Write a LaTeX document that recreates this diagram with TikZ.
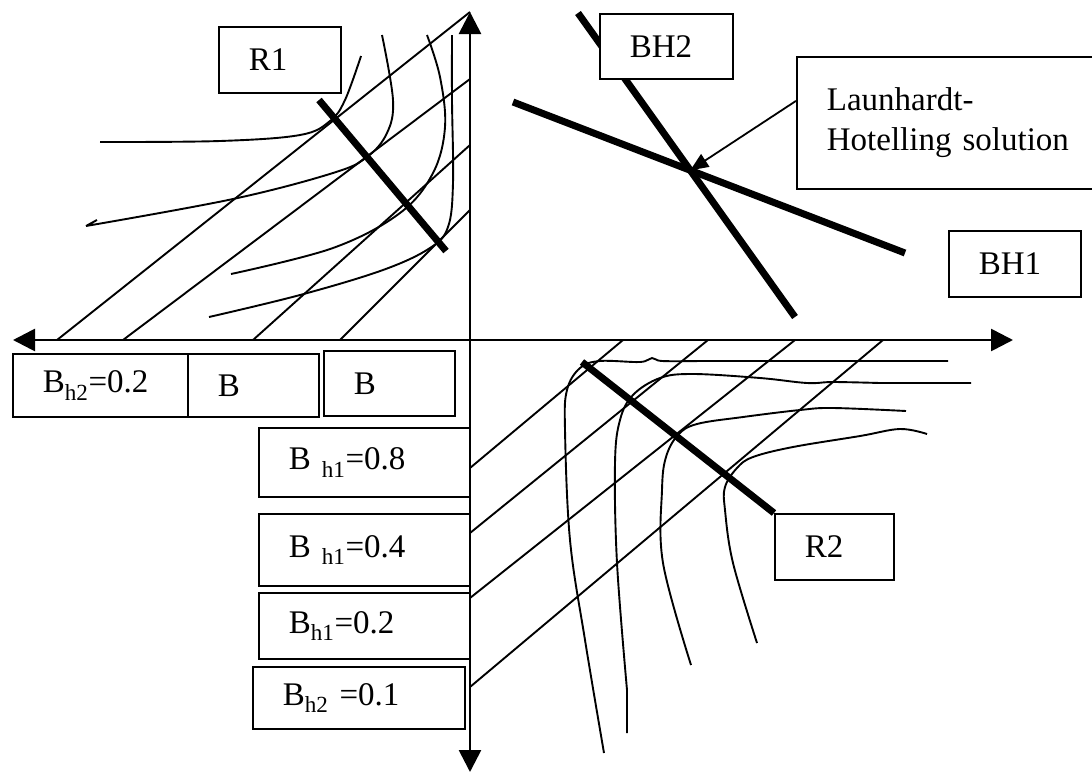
\documentclass[tikz,border=0pt]{standalone}
\usepackage{fontspec}
\setmainfont{Liberation Serif}
\usetikzlibrary{arrows.meta}

\begin{document}
\begin{tikzpicture}
[x=1pt,y=-1pt,
 every node/.style={font=\fontsize{33}{40}\selectfont},
 box/.style={draw,line width=1.8pt,fill=white,anchor=north west,inner xsep=30pt,inner ysep=0pt,align=left},
 isoline/.style={line width=1.9pt},
 heavy/.style={line width=7pt},
 axisline/.style={line width=2.7pt,{Triangle[length=22pt,width=22pt]}-{Triangle[length=22pt,width=22pt]}}]
\useasboundingbox (0,0) rectangle (1092,772);
\coordinate (xl) at (13,340);
\coordinate (xr) at (1013,340);
\coordinate (yt) at (470,12);
\coordinate (yb) at (470,772);
\coordinate (r1a) at (319,100);
\coordinate (r1b) at (446,251);
\coordinate (r2a) at (582,362);
\coordinate (bh1a) at (513,102);
\coordinate (bh1b) at (905,253);
\coordinate (bh2a) at (578,13);
\coordinate (bh2b) at (795,317);
\coordinate (sol) at (intersection of bh1a--bh1b and bh2a--bh2b);
\foreach \a/\b in {57/12,123/79,253/145,340/210}
\draw[isoline] (\a,340) -- (470,\b);
\foreach \a/\b in {623/468,708/533,795/598,883/687}
\draw[isoline] (\a,340) -- (470,\b);
\draw[isoline] plot[smooth,tension=0.6] coordinates {(100,142) (220,141) (300,135) (330,121) (345,100) (361,56)};
\draw[isoline] (97,220) -- (86,226) plot[smooth,tension=0.6] coordinates {(86,226) (233,199) (333,173) (367,157) (387,133) (393,100) (382,35)};
\draw[isoline] plot[smooth,tension=0.6] coordinates {(231,274) (333,248) (400,213) (433,173) (445,127) (440,77) (427,35)};
\draw[isoline] plot[smooth,tension=0.6] coordinates {(209,317) (300,295) (383,270) (430,248) (448,227) (453,183) (452,100) (452,35)};
\draw[isoline] plot[smooth,tension=0.6] coordinates {(604,753) (585,640) (570,540) (565,430) (567,390) (580,368) (600,361) (640,362) (652,358) (662,361) (700,361)} -- (948,361);
\draw[isoline] (627,733) -- (627,690) plot[smooth,tension=0.6] coordinates {(627,690) (617,563) (615,463) (620,420) (633,395) (660,378) (693,374) (760,378) (807,383) (833,382) (880,383)} -- (971,383);
\draw[isoline] plot[smooth,tension=0.6] coordinates {(691,665) (663,563) (662,490) (666,457) (678,435) (697,424) (743,417) (800,410) (833,408) (906,411)};
\draw[isoline] plot[smooth,tension=0.6] coordinates {(757,643) (733,563) (725,510) (725,487) (737,468) (753,457) (793,447) (860,436) (900,429) (927,434)};
\draw[heavy] (r1a) -- (r1b);
\draw[heavy] (bh1a) -- (bh1b);
\draw[heavy] (bh2a) -- (bh2b);
\node[box,text width=62pt,minimum height=66pt] (r1) at (218,26) {R1};
\node[box,text width=73pt,minimum height=65pt] (bh2) at (599,13) {BH2};
\node[box,text width=270pt,minimum height=132pt] (lh) at (796,56) {Launhardt-\\Hotelling solution\\[-16pt]};
\node[box,text width=72pt,minimum height=66pt] (bh1) at (948,230) {BH1};
\node[box,text width=59pt,minimum height=66pt] (r2) at (774,513) {R2};
\node[box,text width=115pt,minimum height=63pt] (b1) at (12,353) {B\textsubscript{h2}=0.2};
\node[box,text width=71pt,minimum height=63pt] (b2) at (187,353) {B};
\node[box,text width=71pt,minimum height=65pt] (b3) at (323,350) {B};
\node[box,text width=151pt,minimum height=69pt] (b4) at (258,427) {B \textsubscript{h1}=0.8};
\node[box,text width=151pt,minimum height=72pt] (b5) at (258,513) {B \textsubscript{h1}=0.4};
\node[box,text width=151pt,minimum height=66pt] (b6) at (258,592) {B\textsubscript{h1}=0.2};
\node[box,text width=152pt,minimum height=62pt] (b7) at (252,666) {B\textsubscript{h2} =0.1};
\draw[heavy] (r2a) -- (r2.north west);
\draw[line width=1.8pt,-{Triangle[length=18pt,width=15pt]}] ([yshift=22pt]lh.west) -- (sol);
\draw[axisline] (xl) -- (xr);
\draw[axisline] (yt) -- (yb);
\end{tikzpicture}
\end{document}
